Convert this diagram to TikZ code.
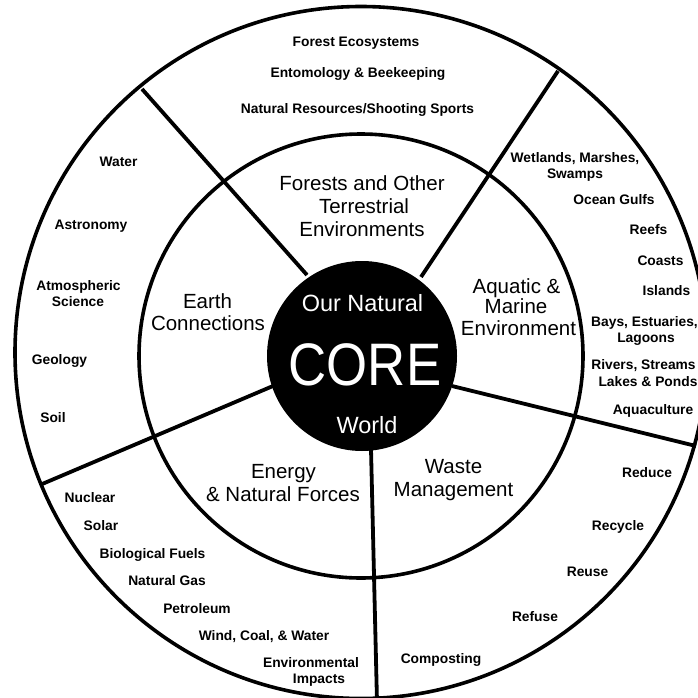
\documentclass[tikz,border=0pt]{standalone}
\usepackage{fontspec}
\setmainfont{Liberation Sans}
\begin{document}
\begin{tikzpicture}[x=1pt,y=-1pt,
  ringline/.style={line width=3.6pt},
  spoke/.style={line width=3.8pt},
  sm/.style={font=\bfseries\fontsize{13.8}{15}\selectfont, inner sep=0pt, text height=9.9pt, text depth=0pt},
  rl/.style={font=\fontsize{20.5}{22}\selectfont, inner sep=0pt, text height=14.7pt, text depth=0pt},
  cl/.style={text=white, inner sep=0pt, font=\fontsize{23.5}{25}\selectfont, text height=16.8pt, text depth=0pt},
  big/.style={text=white, inner sep=0pt, font=\fontsize{60}{62}\selectfont, text height=43pt, text depth=0pt}]
\useasboundingbox (0,0) rectangle (698,698);
\fill[white] (0,0) rectangle (698,698);
% centres
\coordinate (oc) at (361,352.5);
\coordinate (mc) at (361,356);
\coordinate (cc) at (362,356);
% spoke ends
\coordinate (nwi) at (307,275); \coordinate (nwo) at (142,89);
\coordinate (nei) at (421,277); \coordinate (neo) at (558,71);
\coordinate (sei) at (452,386); \coordinate (seo) at (696,446);
\coordinate (si)  at (371,449); \coordinate (so)  at (377,702);
\coordinate (swi) at (273,386); \coordinate (swo) at (41,484.5);
\draw[spoke] (nwi) -- (nwo);
\draw[spoke] (nei) -- (neo);
\draw[spoke] (sei) -- (seo);
\draw[spoke] (si) -- (so);
\draw[spoke] (swi) -- (swo);
\draw[ringline] (oc) circle[radius=346pt];
\draw[ringline] (mc) circle[radius=222pt];
\fill[black] (cc) circle[radius=95pt];
% core
\node[cl] (our) at (362.5,303.5) {Our Natural};
\node[big] (core) at (365,363.5) {\scalebox{0.88}[1]{CORE}};
\node[cl] (world) at (367,425) {World};
% ring labels
\node[rl] (fo1) at (362,183.5) {Forests and Other};
\node[rl] (fo2) at (364,206.5) {Terrestrial};
\node[rl] (fo3) at (362,229) {Environments};
\node[rl] (ea1) at (207.5,301.5) {Earth};
\node[rl] (ea2) at (208,323.5) {Connections};
\node[rl] (aq1) at (516.5,286.5) {Aquatic \&};
\node[rl] (aq2) at (516,306.5) {Marine};
\node[rl] (aq3) at (518.5,328.5) {Environment};
\node[rl] (en1) at (283.5,471) {Energy};
\node[rl] (en2) at (283,494) {\& Natural Forces};
\node[rl] (wa1) at (453.5,466.5) {Waste};
\node[rl] (wa2) at (453.5,489) {Management};
% forests
\node[sm] (fe) at (356,42) {Forest Ecosystems};
\node[sm] (eb) at (358,72.5) {Entomology \& Beekeeping};
\node[sm] (nr) at (357.5,109) {Natural Resources/Shooting Sports};
% earth
\node[sm] (wat) at (118.5,162) {Water};
\node[sm] (ast) at (91,225) {Astronomy};
\node[sm] (at1) at (78.5,286) {Atmospheric};
\node[sm] (at2) at (78,301.5) {Science};
\node[sm] (geo) at (59.5,360) {Geology};
\node[sm] (soil) at (53,417.5) {Soil};
% energy
\node[sm] (nuc) at (90,497.5) {Nuclear};
\node[sm] (sol) at (101,526) {Solar};
\node[sm] (bio) at (152.5,554) {Biological Fuels};
\node[sm] (gas) at (167,581) {Natural Gas};
\node[sm] (pet) at (197,609) {Petroleum};
\node[sm] (wcw) at (264,635.5) {Wind, Coal, \& Water};
\node[sm] (ei1) at (311,663) {Environmental};
\node[sm] (ei2) at (319,678.5) {Impacts};
% waste
\node[sm] (red) at (647,473) {Reduce};
\node[sm] (rec) at (618,525.5) {Recycle};
\node[sm] (reu) at (587.5,571.5) {Reuse};
\node[sm] (ref) at (535,616.5) {Refuse};
\node[sm] (com) at (441,658.5) {Composting};
% aquatic
\node[sm] (wm1) at (575,157.5) {Wetlands, Marshes,};
\node[sm] (wm2) at (575,174) {Swamps};
\node[sm] (ogf) at (614,200) {Ocean Gulfs};
\node[sm] (rfs) at (648.5,229.5) {Reefs};
\node[sm] (cst) at (660.5,260.5) {Coasts};
\node[sm] (isl) at (666.5,290.5) {Islands};
\node[sm] (be1) at (644.5,321.5) {Bays, Estuaries,};
\node[sm] (be2) at (646,338) {Lagoons};
\node[sm] (rs1) at (643.5,365) {Rivers, Streams};
\node[sm] (rs2) at (648,381.5) {Lakes \& Ponds};
\node[sm] (aqc) at (653,410) {Aquaculture};
\end{tikzpicture}
\end{document}
